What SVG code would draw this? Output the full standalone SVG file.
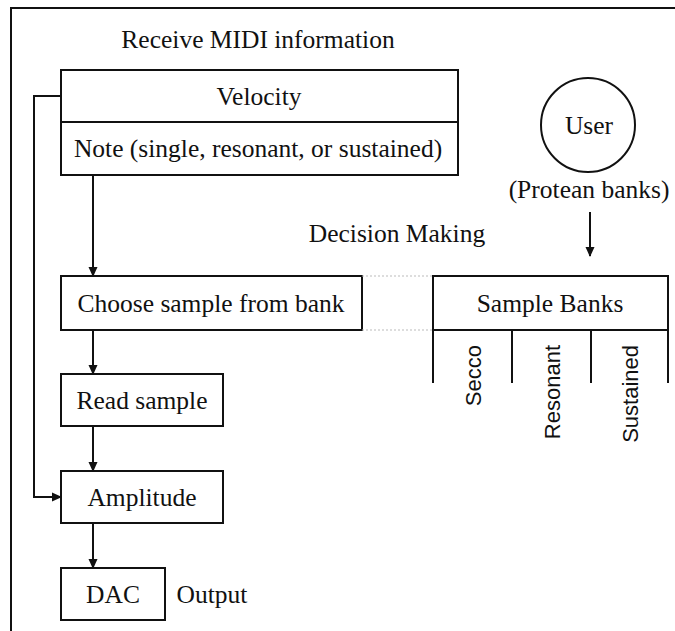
<svg xmlns="http://www.w3.org/2000/svg" width="675" height="631" viewBox="0 0 675 631">
<style>
.box{fill:#fff;stroke:#111;stroke-width:2}
.ln{fill:none;stroke:#111;stroke-width:2}
.dot{fill:none;stroke:#bbb;stroke-width:1;stroke-dasharray:2 2}
.t{font-family:"Liberation Serif","Times New Roman",serif;font-size:25.5px;fill:#111;text-anchor:middle}
.s{font-family:"Liberation Sans",Arial,sans-serif;font-size:22px;fill:#111;text-anchor:end}
</style>
<defs>
<marker id="ah" markerWidth="10" markerHeight="10" refX="9" refY="5" orient="auto" markerUnits="userSpaceOnUse">
<path d="M0,0.5 L10,5 L0,9.5 z" fill="#111"/>
</marker>
</defs>
<rect width="675" height="631" fill="#fff"/>
<path class="ln" d="M11,631 V8 H675"/>
<text class="t" x="258" y="48">Receive MIDI information</text>
<g id="midi">
<rect class="box" x="61" y="70" width="397" height="105"/>
<line class="ln" x1="61" y1="122" x2="458" y2="122"/>
<text class="t" x="259" y="105">Velocity</text>
<text class="t" x="258" y="157">Note (single, resonant, or sustained)</text>
</g>
<g id="user">
<circle class="box" cx="588" cy="125" r="47"/>
<text class="t" x="589" y="134">User</text>
<text class="t" x="589" y="198">(Protean banks)</text>
</g>
<text class="t" x="397" y="242">Decision Making</text>
<g id="choose">
<rect class="box" x="61" y="276" width="301" height="54"/>
<text class="t" x="211" y="312">Choose sample from bank</text>
</g>
<g id="banks">
<rect class="box" x="433" y="276" width="235" height="54"/>
<text class="t" x="550" y="312">Sample Banks</text>
<path class="ln" d="M433,330 V383 M512,330 V383 M591,330 V383 M668,330 V383"/>
<text class="s" transform="translate(481,345) rotate(-90)">Secco</text>
<text class="s" transform="translate(560,345) rotate(-90)">Resonant</text>
<text class="s" transform="translate(638,345) rotate(-90)">Sustained</text>
</g>
<g id="read">
<rect class="box" x="61" y="374" width="162" height="52"/>
<text class="t" x="142" y="409">Read sample</text>
</g>
<g id="amp">
<rect class="box" x="61" y="471" width="162" height="52"/>
<text class="t" x="142" y="506">Amplitude</text>
</g>
<g id="dac">
<rect class="box" x="61" y="568" width="104" height="52"/>
<text class="t" x="113" y="603">DAC</text>
</g>
<text class="t" x="212" y="603">Output</text>
<g id="connectors">
<path class="ln" d="M93,175 V276" marker-end="url(#ah)"/>
<path class="ln" d="M93,330 V374" marker-end="url(#ah)"/>
<path class="ln" d="M93,426 V471" marker-end="url(#ah)"/>
<path class="ln" d="M93,523 V568" marker-end="url(#ah)"/>
<path class="ln" d="M61,96 H34 V497 H61" marker-end="url(#ah)"/>
<path class="ln" d="M590,212 V256" marker-end="url(#ah)"/>
<path class="dot" d="M362,276 H433 M362,330 H433"/>
</g>
</svg>
